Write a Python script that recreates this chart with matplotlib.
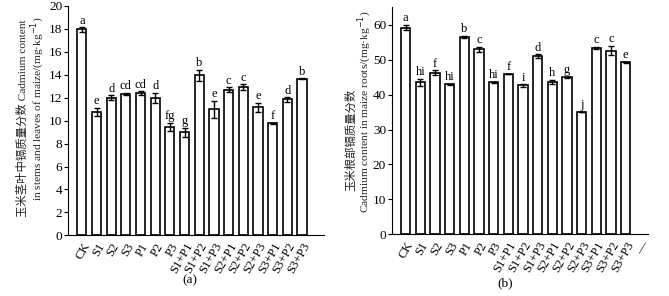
import matplotlib.pyplot as plt
import numpy as np

plt.rcParams['font.family'] = ['Liberation Serif', 'Noto Sans CJK SC']
plt.rcParams['axes.unicode_minus'] = False

groups = ['CK', 'S1', 'S2', 'S3', 'P1', 'P2', 'P3', 'S1+P1', 'S1+P2', 'S1+P3',
          'S2+P1', 'S2+P2', 'S2+P3', 'S3+P1', 'S3+P2', 'S3+P3']

# (a) stems and leaves
cd_leaf = [17.95, 10.75, 12.0, 12.35, 12.4, 12.0, 9.45, 9.0, 13.95, 11.0,
           12.7, 12.9, 11.15, 9.75, 11.85, 13.65]
err_leaf = [0.2, 0.35, 0.2, 0.1, 0.15, 0.45, 0.35, 0.4, 0.5, 0.75,
            0.2, 0.25, 0.4, 0.05, 0.2, 0.05]
let_leaf = ['a', 'e', 'd', 'cd', 'cd', 'd', 'fg', 'g', 'b', 'e',
            'c', 'c', 'e', 'f', 'd', 'b']

# (b) roots
cd_root = [59.2, 43.5, 46.3, 42.9, 56.5, 53.0, 43.5, 45.9, 42.6, 51.0,
           43.6, 44.9, 35.1, 53.4, 52.6, 49.2]
err_root = [0.7, 1.0, 0.6, 0.2, 0.3, 0.7, 0.1, 0.0, 0.3, 0.5,
            0.7, 0.2, 0.0, 0.3, 1.3, 0.2]
let_root = ['a', 'hi', 'f', 'hi', 'b', 'c', 'hi', 'f', 'i', 'd',
            'h', 'g', 'j', 'c', 'c', 'e']
extra_root_label = '—'

fig = plt.figure(figsize=(6.69, 2.96), dpi=100)
ax1 = fig.add_axes([0.1016, 0.205, 0.3827, 0.775])
ax2 = fig.add_axes([0.5855, 0.2085, 0.3826, 0.767])


def draw(ax, vals, errs, lets, ymax, yticks, off, labels):
    x = np.arange(len(vals))
    ax.bar(x, vals, width=0.62, color='white', edgecolor='black', linewidth=1.2)
    ax.errorbar(x, vals, yerr=errs, fmt='none', ecolor='black',
                elinewidth=1.0, capsize=2.5, capthick=1.0)
    for xi, v, e, t in zip(x, vals, errs, lets):
        ax.text(xi, v + e + off, t, ha='center', va='bottom', fontsize=9)
    ax.set_xlim(-0.95, 16.5)
    ax.set_ylim(0, ymax)
    ax.set_yticks(yticks)
    ax.set_xticks(np.arange(len(labels)))
    ax.set_xticklabels(labels, rotation=60, ha='right', rotation_mode='anchor',
                       fontsize=9)
    ax.tick_params(axis='x', length=0, pad=4)
    ax.tick_params(axis='y', direction='out', length=3, width=0.8,
                   labelsize=9.5, pad=1)
    for s in ['top', 'right']:
        ax.spines[s].set_visible(False)
    ax.spines['left'].set_linewidth(0.8)
    ax.spines['bottom'].set_linewidth(0.8)


draw(ax1, cd_leaf, err_leaf, let_leaf, 20, np.arange(0, 21, 2), 0.05, groups)
draw(ax2, cd_root, err_root, let_root, 65, np.arange(0, 61, 10), 0.2,
     groups + [extra_root_label])

lab = dict(rotation=90, ha='center', va='center', fontsize=8.2, color='#222222')
fig.text(22 / 669, 1 - 118 / 296, '玉米茎叶中镉质量分数 Cadmium content', **lab)
fig.text(38 / 669, 1 - 109 / 296, 'in stems and leaves of maize/(mg·kg$^{-1}$)', **lab)
fig.text(351 / 669, 1 - 140 / 296, '玉米根部镉质量分数', **lab)
fig.text(365 / 669, 1 - 112 / 296, 'Cadmium content in maize roots/(mg·kg$^{-1}$)', **lab)

fig.text(190 / 669, 1 - 280 / 296, '(a)', ha='center', va='center', fontsize=9.5)
fig.text(505 / 669, 1 - 283 / 296, '(b)', ha='center', va='center', fontsize=9.5)

fig.savefig('out.png', dpi=100)
